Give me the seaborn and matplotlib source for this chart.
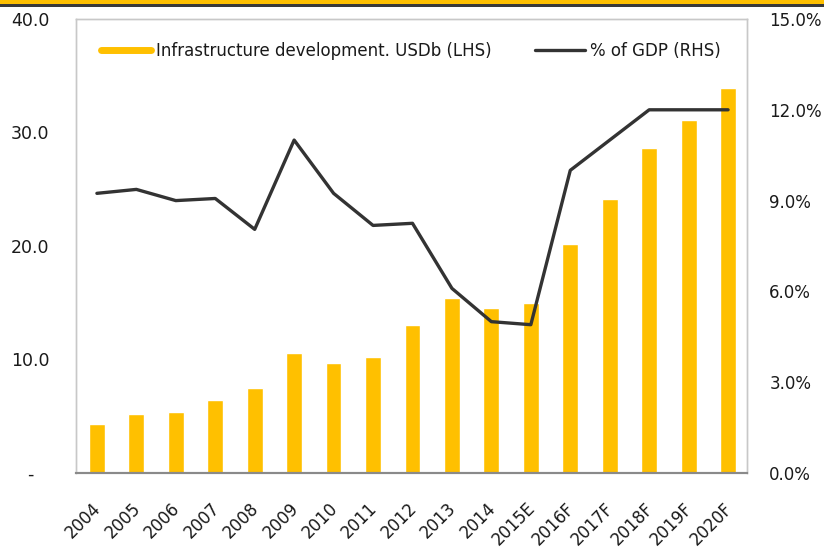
import numpy as np
import pandas as pd
import matplotlib
matplotlib.use("Agg")
import matplotlib.pyplot as plt
from matplotlib.lines import Line2D
from matplotlib.patches import Rectangle
from matplotlib.transforms import ScaledTranslation
import seaborn as sns

years = ["2004", "2005", "2006", "2007", "2008", "2009", "2010", "2011", "2012",
         "2013", "2014", "2015E", "2016F", "2017F", "2018F", "2019F", "2020F"]
infra_usdb = [4.3, 5.2, 5.4, 6.4, 7.5, 10.6, 9.7, 10.2, 13.0,
              15.4, 14.5, 15.0, 20.2, 24.1, 28.6, 31.1, 33.9]
gdp_pct = [9.24, 9.37, 9.0, 9.07, 8.05, 11.0, 9.24, 8.18, 8.25,
           6.1, 5.0, 4.9, 10.0, 11.0, 12.0, 12.0, 12.0]
left_ticks = [0, 10, 20, 30, 40]
left_labels = ["-", "10.0", "20.0", "30.0", "40.0"]
right_ticks = [0, 3, 6, 9, 12, 15]
right_labels = ["0.0%", "3.0%", "6.0%", "9.0%", "12.0%", "15.0%"]

BAR_COLOR = "#FFC000"
LINE_COLOR = "#333333"
TEXT_COLOR = "#1A1A1A"

sns.set_theme(style="white")
plt.rcParams["font.family"] = ["DejaVu Sans"]

df = pd.DataFrame({"year": years, "infra": infra_usdb,
                   "pos": np.arange(len(years)), "gdp": gdp_pct})

fig = plt.figure(figsize=(8.24, 5.49), dpi=100)
ax = fig.add_axes([76 / 824, 1 - 473 / 549, (747 - 76) / 824, (473 - 19) / 549])

sns.barplot(data=df, x="year", y="infra", color=BAR_COLOR, saturation=1,
            width=0.4, ax=ax, zorder=2)
ax.set_xlim(-0.53, len(years) - 0.52)
ax.set_ylim(0, 40)
ax.set_yticks(left_ticks)
ax.set_yticklabels(left_labels)
ax.set_xlabel("")
ax.set_ylabel("")

ax2 = ax.twinx()
sns.lineplot(data=df, x="pos", y="gdp", color=LINE_COLOR, linewidth=2.4,
             ax=ax2, zorder=3)
ax2.set_ylim(0, 15)
ax2.set_yticks(right_ticks)
ax2.set_yticklabels(right_labels)
ax2.set_xlim(ax.get_xlim())
ax2.set_ylabel("")
ax2.set_xlabel("")

for a in (ax, ax2):
    for side in ("top", "left", "right"):
        a.spines[side].set_color("#C8C8C8")
        a.spines[side].set_linewidth(1.0)
    a.spines["bottom"].set_color("#8A8A8A")
    a.spines["bottom"].set_linewidth(1.5)

ax.tick_params(axis="y", length=0, pad=33, labelsize=12.5, labelcolor=TEXT_COLOR)
for t in ax.get_yticklabels():
    t.set_horizontalalignment("center")
ax2.tick_params(axis="y", length=0, pad=16, labelsize=12, labelcolor=TEXT_COLOR)
ax.tick_params(axis="x", length=0, pad=19, labelsize=12, labelcolor=TEXT_COLOR)
shift = ScaledTranslation(-5 / 100, 0, fig.dpi_scale_trans)
for t in ax.get_xticklabels():
    t.set_rotation(45)
    t.set_horizontalalignment("right")
    t.set_rotation_mode("anchor")
    t.set_transform(t.get_transform() + shift)

handles = [Line2D([], [], color=BAR_COLOR, linewidth=5),
           Line2D([], [], color=LINE_COLOR, linewidth=2.4)]
labels = ["Infrastructure development. USDb (LHS)", "% of GDP (RHS)"]
leg = ax2.legend(handles, labels, loc="upper left", bbox_to_anchor=(0.015, 0.983),
                 ncol=2, frameon=False, fontsize=12, handlelength=3.0,
                 handletextpad=0.3, columnspacing=2.6)
for t in leg.get_texts():
    t.set_color(TEXT_COLOR)

# header band
fig.patches.append(Rectangle((0, 1 - 4 / 549), 1, 4 / 549, transform=fig.transFigure,
                             facecolor="#FFC000", edgecolor="none", zorder=5))
fig.patches.append(Rectangle((0, 1 - 7 / 549), 1, 3 / 549, transform=fig.transFigure,
                             facecolor="#3A3A3A", edgecolor="none", zorder=5))

fig.savefig("out.png", dpi=100)
